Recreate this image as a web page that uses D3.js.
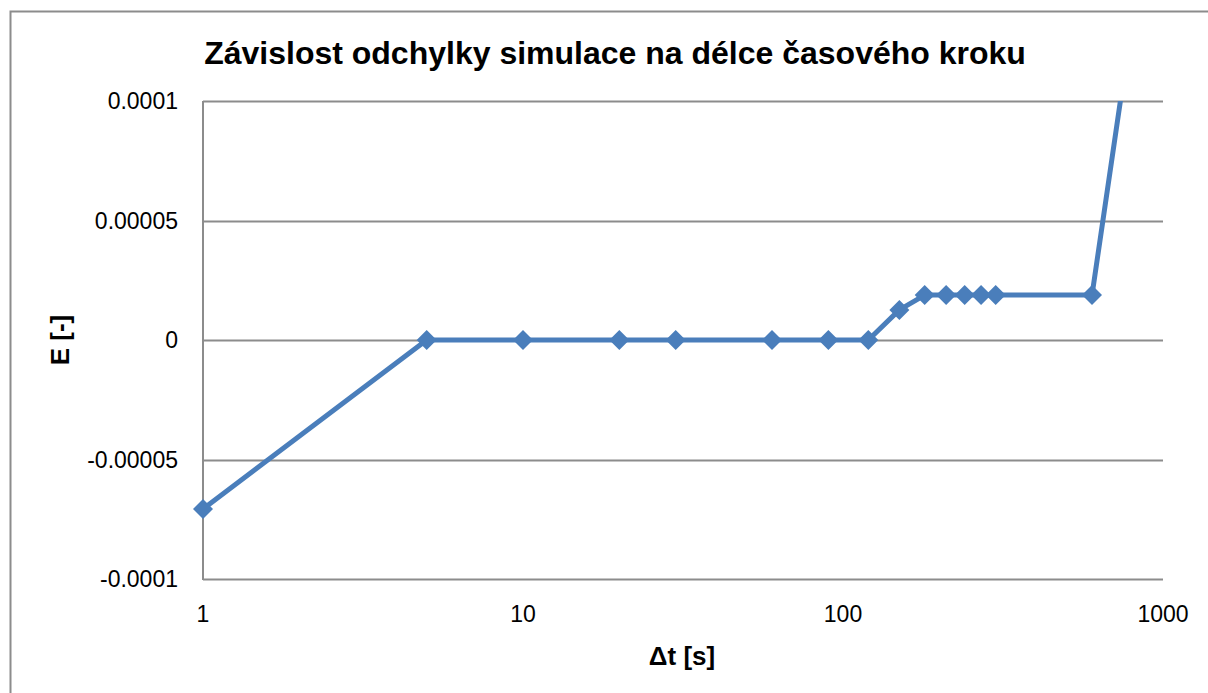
<!DOCTYPE html>
<html>
<head>
  <meta charset="utf-8">
  <script src="https://d3js.org/d3.v7.min.js"></script>
  <style>
    body { margin: 0; background: #fff; }
  </style>
</head>
<body>
  <script>
    var width = 1208;
    var height = 693;

    // casove kroky a odchylky
    var steps = [1, 5, 10, 20, 30, 60, 90, 120, 150, 180, 210, 240, 270, 300, 600, 900];
    var errors = [-0.0000707, 0, 0, 0, 0, 0, 0, 0, 0.0000126, 0.0000188, 0.0000188, 0.0000188, 0.0000188, 0.0000188, 0.0000188, 0.00018];
    var xTicks = [1, 10, 100, 1000];
    var yTicks = [-0.0001, -0.00005, 0, 0.00005, 0.0001];
    var yLabels = ["-0.0001", "-0.00005", "0", "0.00005", "0.0001"];

    var plotL = 203, plotR = 1163, plotT = 101, plotB = 579;

    var svg = d3.select("body")
      .append("svg")
      .attr("width", width)
      .attr("height", height);

    svg.append("rect")
      .attr("x", 10.5).attr("y", 11.5)
      .attr("width", 1230).attr("height", 720)
      .style("fill", "none")
      .style("stroke", "#8c8c8c")
      .style("stroke-width", 2);

    var x = d3.scaleLog().domain([1, 1000]).range([plotL, plotR]);
    var y = d3.scaleLinear().domain([-0.0001, 0.0001]).range([plotB, plotT]);

    // mrizka
    svg.selectAll("line.grid")
      .data(yTicks)
      .enter()
      .append("line")
      .attr("class", "grid")
      .attr("x1", plotL).attr("x2", plotR)
      .attr("y1", function(d) { return Math.round(y(d)) + 0.5; })
      .attr("y2", function(d) { return Math.round(y(d)) + 0.5; })
      .style("stroke", "#8c8c8c")
      .style("stroke-width", 2);

    svg.append("line")
      .attr("x1", plotL).attr("x2", plotL)
      .attr("y1", plotT).attr("y2", plotB + 1)
      .style("stroke", "#8c8c8c")
      .style("stroke-width", 2);

    var font = "'Liberation Sans', Arial, sans-serif";

    svg.selectAll("text.ylab")
      .data(yTicks)
      .enter()
      .append("text")
      .attr("class", "ylab")
      .attr("x", 178)
      .attr("y", function(d) { return y(d) + 8; })
      .attr("text-anchor", "end")
      .style("font-family", font)
      .style("font-size", "23px")
      .text(function(d, i) { return yLabels[i]; });

    svg.selectAll("text.xlab")
      .data(xTicks)
      .enter()
      .append("text")
      .attr("class", "xlab")
      .attr("x", function(d) { return x(d); })
      .attr("y", 622)
      .attr("text-anchor", "middle")
      .style("font-family", font)
      .style("font-size", "23px")
      .text(function(d) { return d; });

    svg.append("clipPath").attr("id", "clip")
      .append("rect")
      .attr("x", plotL - 20).attr("y", plotT)
      .attr("width", plotR - plotL + 40).attr("height", plotB - plotT + 20);

    var pts = steps.map(function(s, i) { return { s: s, e: errors[i] }; });

    var line = d3.line()
      .x(function(d) { return x(d.s); })
      .y(function(d) { return y(d.e); });

    var g = svg.append("g").attr("clip-path", "url(#clip)");

    g.append("path")
      .datum(pts)
      .attr("d", line)
      .style("fill", "none")
      .style("stroke", "#4a7ebb")
      .style("stroke-width", 5)
      .style("stroke-linejoin", "round");

    g.selectAll("path.mark")
      .data(pts.filter(function(d) { return d.e <= 0.0001; }))
      .enter()
      .append("path")
      .attr("class", "mark")
      .attr("transform", function(d) { return "translate(" + x(d.s) + "," + y(d.e) + ")"; })
      .attr("d", "M0,-10L10,0L0,10L-10,0Z")
      .style("fill", "#4a7ebb");

    svg.append("text")
      .attr("x", 615).attr("y", 64)
      .attr("text-anchor", "middle")
      .style("font-family", font)
      .style("font-weight", "bold")
      .style("font-size", "32px")
      .text("Závislost odchylky simulace na délce časového kroku");

    svg.append("text")
      .attr("x", 682).attr("y", 665)
      .attr("text-anchor", "middle")
      .style("font-family", font)
      .style("font-weight", "bold")
      .style("font-size", "26px")
      .text("Δt [s]");

    svg.append("text")
      .attr("transform", "translate(69,340) rotate(-90)")
      .attr("text-anchor", "middle")
      .style("font-family", font)
      .style("font-weight", "bold")
      .style("font-size", "26px")
      .text("E [-]");
  </script>
</body>
</html>
